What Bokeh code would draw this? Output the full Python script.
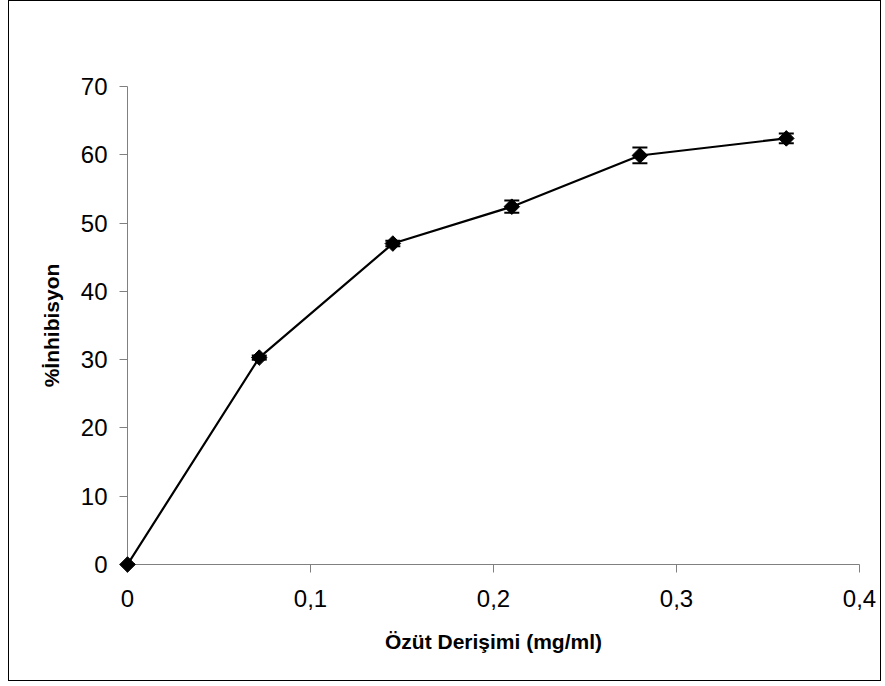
import numpy as np
from bokeh.plotting import figure
from bokeh.models import ColumnDataSource, Whisker, TeeHead, FixedTicker, Range1d
from bokeh.embed import file_html
from bokeh.resources import INLINE

# data
conc = [0.0, 0.072, 0.145, 0.21, 0.28, 0.36]
inhib = [0.0, 30.3, 47.0, 52.4, 59.9, 62.4]
err = [0.0, 0.3, 0.4, 0.9, 1.15, 0.7]
x_ticks = [0.0, 0.1, 0.2, 0.3, 0.4]
x_tick_labels = {0.0: "0", 0.1: "0,1", 0.2: "0,2", 0.3: "0,3", 0.4: "0,4"}
y_ticks = [0, 10, 20, 30, 40, 50, 60, 70]

src = ColumnDataSource(dict(
    x=conc, y=inhib,
    lower=[v - e for v, e in zip(inhib, err)],
    upper=[v + e for v, e in zip(inhib, err)],
))

FONT = "Liberation Sans"

p = figure(
    frame_width=732, frame_height=478,
    min_border_left=118, min_border_right=21, min_border_top=85, min_border_bottom=116,
    x_range=Range1d(0, 0.4), y_range=Range1d(0, 70),
    output_backend="svg", toolbar_location=None,
    background_fill_color="white", border_fill_color="white",
)
p.styles = {"border": "1px solid black", "margin-left": "8px"}
p.outline_line_color = None
p.grid.visible = False

for ax in (p.xaxis, p.yaxis):
    ax.axis_line_color = "#808080"
    ax.axis_line_width = 1
    ax.major_tick_line_color = "#808080"
    ax.major_tick_out = 8
    ax.major_tick_in = 0
    ax.minor_tick_line_color = None
    ax.major_label_text_font = FONT
    ax.major_label_text_font_size = "24px"
    ax.major_label_text_color = "black"
    ax.axis_label_text_font = FONT
    ax.axis_label_text_font_size = "21px"
    ax.axis_label_text_font_style = "bold"
    ax.axis_label_text_color = "black"

p.xaxis.ticker = FixedTicker(ticks=x_ticks)
p.xaxis.major_label_overrides = x_tick_labels
p.yaxis.ticker = FixedTicker(ticks=y_ticks)
p.xaxis.major_label_standoff = 17
p.yaxis.major_label_standoff = 12
p.xaxis.axis_label = "Özüt Derişimi (mg/ml)"
p.yaxis.axis_label = "%İnhibisyon"
p.xaxis.axis_label_standoff = 20
p.yaxis.axis_label_standoff = 15

p.line("x", "y", source=src, line_color="black", line_width=2.2)
wh = Whisker(base="x", lower="lower", upper="upper", source=src, dimension="height",
             line_color="black", line_width=2,
             upper_head=TeeHead(size=15, line_color="black", line_width=2),
             lower_head=TeeHead(size=15, line_color="black", line_width=2))
p.add_layout(wh)
p.scatter("x", "y", source=src, marker="square", size=11, angle=np.pi / 4,
          fill_color="black", line_color="black", line_width=1, level="overlay")

open("out.html", "w").write(file_html(p, INLINE))
